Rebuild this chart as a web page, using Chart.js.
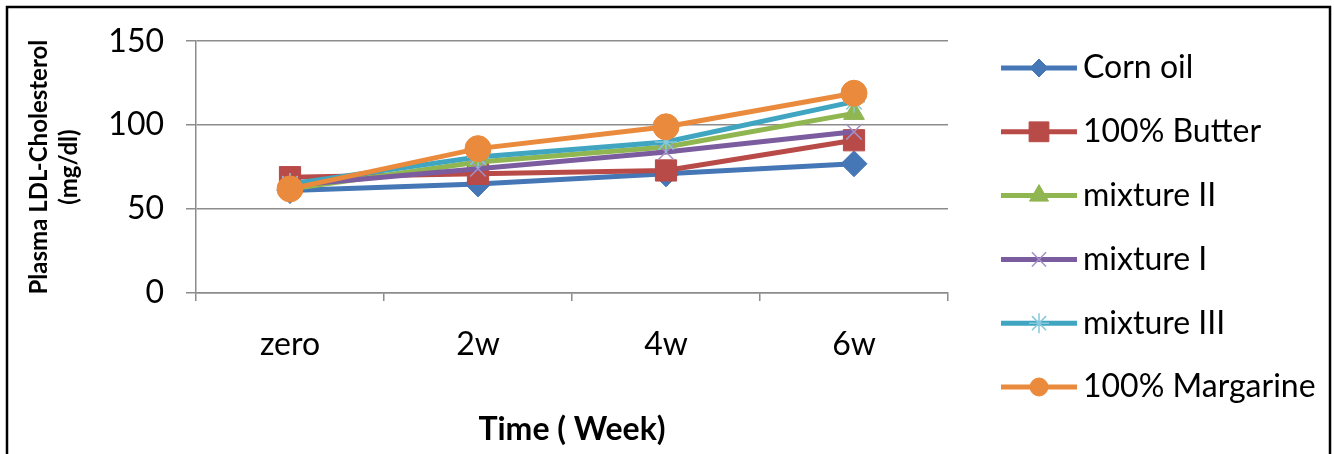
<!DOCTYPE html>
<html>
<head>
<meta charset="utf-8">
<script src="https://cdn.jsdelivr.net/npm/chart.js@4.4.0/dist/chart.umd.min.js"></script>
<style>
    html, body { margin: 0; padding: 0; background: #fff; }
    #wrap { position: relative; width: 1334px; height: 454px; }
</style>
</head>
<body>
<div id="wrap"><canvas id="ldlChart" width="1334" height="454"></canvas></div>
<script>
const weeks = ["zero", "2w", "4w", "6w"];
const seriesNames = ["Corn oil", "100% Butter", "mixture II", "mixture I", "mixture III", "100% Margarine"];
const cornOil = [61, 65, 71, 77];
const butter = [69, 71, 73, 91];
const mixtureII = [62, 78, 87, 107];
const mixtureI = [64, 74, 84, 96];
const mixtureIII = [65, 81, 90, 114];
const margarine = [62, 86, 99, 119];
const yTicks = [0, 50, 100, 150];

const FONT = "Lato, 'Open Sans', sans-serif";

const styles = [
    { color: "#4576b5", point: "rectRot", radius: 13, legendRadius: 9, pointBorder: "#4576b5" },
    { color: "#b84a47", point: "rect", radius: 15, legendRadius: 14, pointBorder: "#b84a47" },
    { color: "#8fb650", point: "triangle", radius: 12, legendRadius: 11, pointBorder: "#8fb650" },
    { color: "#7b5c9f", point: "crossRot", radius: 11, legendRadius: 10, pointBorder: "#a58fc4" },
    { color: "#3fa5c0", point: "star", radius: 11, legendRadius: 10, pointBorder: "#86c8dc" },
    { color: "#ea8a3c", point: "circle", radius: 13, legendRadius: 9, pointBorder: "#ea8a3c" }
];
const values = [cornOil, butter, mixtureII, mixtureI, mixtureIII, margarine];

const datasets = seriesNames.map((name, i) => ({
    label: name,
    data: values[i],
    borderColor: styles[i].color,
    backgroundColor: styles[i].color,
    borderWidth: 5,
    pointStyle: styles[i].point,
    pointRadius: styles[i].radius,
    pointBackgroundColor: styles[i].color,
    pointBorderColor: styles[i].pointBorder,
    pointBorderWidth: (styles[i].point === "crossRot" || styles[i].point === "star") ? 1.5 : 1,
    tension: 0,
    order: seriesNames.length - i
}));

// legend on the right, line + marker
const sideLegend = {
    id: "sideLegend",
    afterDraw(chart) {
        const ctx = chart.ctx;
        chart.data.datasets.forEach((ds, i) => {
            const y = 68 + i * 63.8;
            ctx.save();
            ctx.strokeStyle = ds.borderColor;
            ctx.lineWidth = 5;
            ctx.beginPath();
            ctx.moveTo(1001, y);
            ctx.lineTo(1077, y);
            ctx.stroke();
            ctx.fillStyle = ds.pointBackgroundColor;
            ctx.strokeStyle = ds.pointBorderColor;
            ctx.lineWidth = ds.pointBorderWidth;
            Chart.helpers.drawPoint(ctx, {
                pointStyle: ds.pointStyle,
                radius: styles[i].legendRadius,
                rotation: 0,
                borderWidth: ds.pointBorderWidth
            }, 1039, y);
            ctx.fillStyle = "#000";
            ctx.font = "32px " + FONT;
            ctx.textBaseline = "middle";
            ctx.fillText(ds.label, 1083, y);
            ctx.restore();
        });
        // outer frame
        ctx.save();
        ctx.strokeStyle = "#000";
        ctx.lineWidth = 2.5;
        ctx.strokeRect(7, 7, 1323, 470);
        ctx.restore();
    }
};

new Chart(document.getElementById("ldlChart"), {
    type: "line",
    data: { labels: weeks, datasets: datasets },
    options: {
        responsive: false,
        animation: false,
        layout: { padding: { top: 40, right: 386, left: 0, bottom: 0 } },
        plugins: {
            legend: { display: false },
            tooltip: { enabled: false }
        },
        scales: {
            x: {
                offset: true,
                afterFit: scale => { scale.height = 161; },
                grid: { offset: true, drawOnChartArea: false, tickLength: 8, color: "#8c8c8c", lineWidth: 1.5 },
                border: { color: "#8c8c8c", width: 1.5 },
                ticks: { color: "#000", padding: 24, font: { family: FONT, size: 32 } },
                title: {
                    display: true,
                    text: "Time ( Week)",
                    color: "#000",
                    font: { family: FONT, size: 32, weight: "bold" },
                    padding: { top: 0, bottom: 5 }
                }
            },
            y: {
                min: 0,
                max: 150,
                afterFit: scale => { scale.width = 196; },
                afterBuildTicks: scale => { scale.ticks = yTicks.map(v => ({ value: v })); },
                grid: { color: "#8c8c8c", lineWidth: 1.5, tickLength: 10 },
                border: { color: "#8c8c8c", width: 1.5 },
                ticks: { color: "#000", padding: 22, font: { family: FONT, size: 32 } },
                title: {
                    display: true,
                    text: ["Plasma LDL-Cholesterol", "(mg/dl)"],
                    color: "#000",
                    font: { family: FONT, size: 24, weight: "bold", lineHeight: 1.25 },
                    padding: { top: 24, bottom: 0 }
                }
            }
        }
    },
    plugins: [sideLegend]
});
</script>
</body>
</html>
